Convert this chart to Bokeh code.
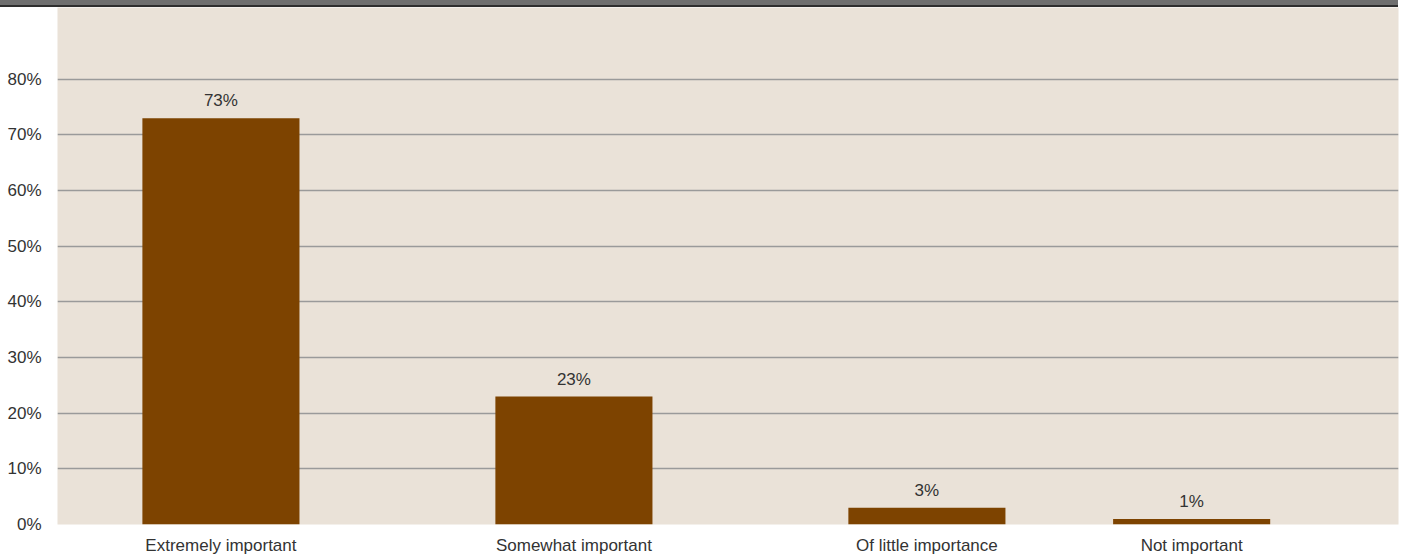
from bokeh.plotting import figure
from bokeh.models import ColumnDataSource, FixedTicker, Range1d, Div, LabelSet
from bokeh.core.properties import value
from bokeh.layouts import column
from bokeh.embed import file_html
from bokeh.resources import INLINE

# ---- data ----
categories = ["Extremely important", "Somewhat important", "Of little importance", "Not important"]
values = [73, 23, 3, 1]
value_labels = ["73%", "23%", "3%", "1%"]
y_ticks = [0, 10, 20, 30, 40, 50, 60, 70, 80]

# layout (category slot positions along the x axis, as in the original chart)
slots = [0, 1, 2, 2.75]

FONT = "Liberation Sans"
TEXT = "#333333"
FS = "17px"

src = ColumnDataSource(dict(x=slots, top=values, lab=value_labels, cat=categories))

p = figure(width=1401, height=550, output_backend="svg", toolbar_location=None,
           x_range=Range1d(-0.463, 3.336), y_range=Range1d(0, 92.9),
           min_border_left=57, min_border_right=3, min_border_top=0, min_border_bottom=20)
p.background_fill_color = "#EAE2D8"
p.border_fill_color = "white"
p.outline_line_color = None

p.vbar(x="x", top="top", width=0.445, source=src, fill_color="#7D4300", line_color=None)

labels = LabelSet(x="x", y="top", text="lab", source=src, text_align="center",
                  text_baseline="bottom", y_offset=8, text_font=value(FONT),
                  text_font_size=FS, text_color=TEXT)
p.add_layout(labels)

p.xgrid.grid_line_color = None
p.ygrid.ticker = FixedTicker(ticks=y_ticks)
p.ygrid.grid_line_color = "#9a9a9a"
p.ygrid.grid_line_width = 1.5

p.yaxis.ticker = FixedTicker(ticks=y_ticks)
p.yaxis.major_label_overrides = {t: f"{t}%" for t in y_ticks}
p.yaxis.axis_line_color = None
p.yaxis.major_tick_line_color = None
p.yaxis.minor_tick_line_color = None
p.yaxis.major_label_standoff = 10
p.yaxis.major_label_text_font = FONT
p.yaxis.major_label_text_font_size = FS
p.yaxis.major_label_text_color = TEXT

p.xaxis.ticker = FixedTicker(ticks=slots)
p.xaxis.major_label_overrides = {s: c for s, c in zip(slots, categories)}
p.xaxis.axis_line_color = None
p.xaxis.major_tick_line_color = None
p.xaxis.minor_tick_line_color = None
p.xaxis.major_label_standoff = 5
p.xaxis.major_label_text_font = FONT
p.xaxis.major_label_text_font_size = FS
p.xaxis.major_label_text_color = TEXT

band = Div(text="", width=1398, height=7,
           styles={"background-color": "#6f6f6f", "border-bottom": "2px solid #2e2e2e",
                   "box-sizing": "border-box", "margin": "0", "padding": "0"})

layout = column(band, p, spacing=0)
open("out.html", "w").write(file_html(layout, INLINE))
